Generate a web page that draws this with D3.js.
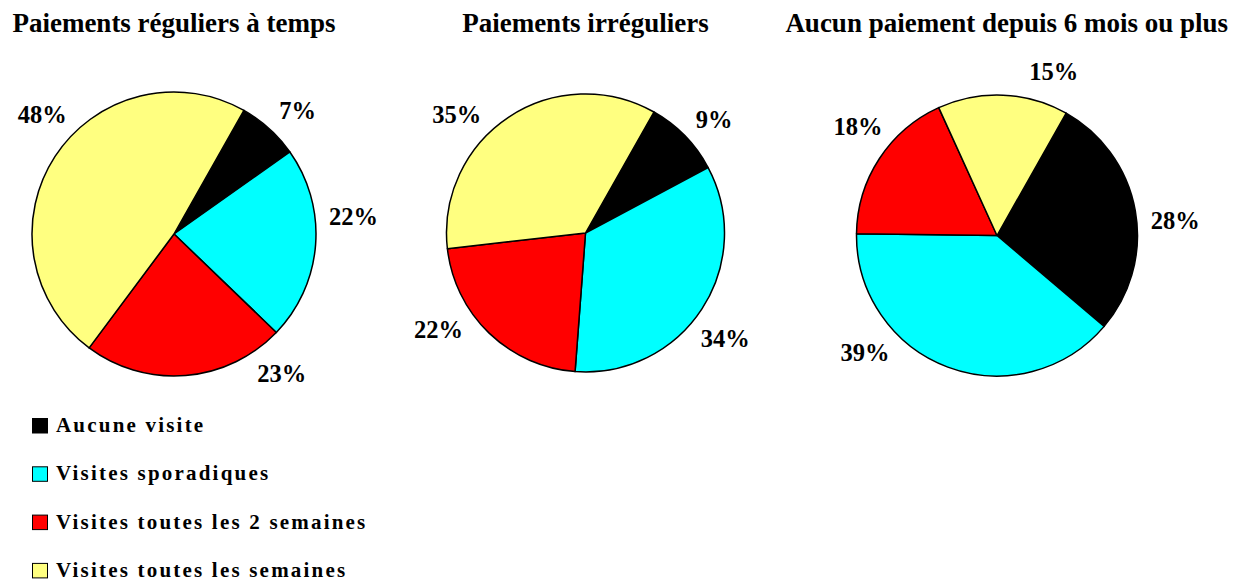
<!DOCTYPE html>
<html>
<head>
<meta charset="utf-8">
<script src="https://cdn.jsdelivr.net/npm/d3@7"></script>
<style>
  body { margin: 0; background: #fff; }
  svg { display: block; font-family: "Liberation Serif", "Times New Roman", serif; font-weight: bold; }
</style>
</head>
<body>
<div id="chart"></div>
<script>
// data
const categories = ['Aucune visite', 'Visites sporadiques', 'Visites toutes les 2 semaines', 'Visites toutes les semaines'];
const titles = ['Paiements réguliers à temps', 'Paiements irréguliers', 'Aucun paiement depuis 6 mois ou plus'];
const regulier = [7, 22, 23, 48];
const irregulier = [9, 34, 22, 35];
const aucunPaiement = [28, 39, 18, 15];
const series = [regulier, irregulier, aucunPaiement];
const colors = ['#000000', '#00ffff', '#ff0000', '#ffff80'];

// layout
const width = 1239, height = 585;
const startDeg = 29.5;
const radii = [142, 139, 140.5];
const centersY = [234, 233, 235.5];
// labels were dragged a bit off the slice middles in the original (degrees)
const labelTurn = [[3, -10, -32, 10], [3, 5, 12, -13], [5, 27, 6, 16]];

const svg = d3.select('#chart').append('svg')
  .attr('width', width)
  .attr('height', height);

const x = d3.scaleLinear().domain([0, 2]).range([174, 997]);

const pie = d3.pie()
  .sort(null)
  .value(d => d)
  .startAngle(startDeg * Math.PI / 180)
  .endAngle(startDeg * Math.PI / 180 + 2 * Math.PI);

series.forEach((values, i) => {
  const cx = x(i), cy = centersY[i], r = radii[i];
  const arc = d3.arc().innerRadius(0).outerRadius(r);

  const g = svg.append('g').attr('transform', `translate(${cx},${cy})`);
  const arcs = pie(values);

  g.selectAll('path')
    .data(arcs)
    .join('path')
    .attr('d', arc)
    .attr('fill', (d, j) => colors[j])
    .attr('stroke', '#000')
    .attr('stroke-width', 1.5)
    .attr('stroke-linejoin', 'round');

  // percent labels, outside the pie
  g.selectAll('text.pct')
    .data(arcs)
    .join('text')
    .attr('class', 'pct')
    .attr('text-anchor', 'middle')
    .style('font-size', '24.5px')
    .text(d => d.data + '%')
    .each(function (d, j) {
      const w = this.getComputedTextLength();
      const h = 17;
      const a = (d.startAngle + d.endAngle) / 2 + labelTurn[i][j] * Math.PI / 180;
      const s = Math.sin(a), c = -Math.cos(a);
      const lx = (r + 14) * s + s * w / 2;
      const ly = (r + 14) * c + c * (h / 2 + 10);
      d3.select(this).attr('x', lx).attr('y', ly + h / 2);
    });

  // title (the last one sits against the right margin)
  const t = svg.append('text')
    .attr('y', 32)
    .style('font-size', '27px')
    .text(titles[i]);
  if (i === series.length - 1) {
    t.attr('text-anchor', 'end').attr('x', width - 11);
  } else {
    t.attr('text-anchor', 'middle').attr('x', cx);
  }
});

// legend
const legend = svg.append('g').attr('transform', 'translate(32,418)');
const rows = legend.selectAll('g')
  .data(categories)
  .join('g')
  .attr('transform', (d, i) => `translate(0,${i * 48.3})`);

rows.append('rect')
  .attr('x', 0.5)
  .attr('y', 0.5)
  .attr('width', 15)
  .attr('height', 14.5)
  .attr('fill', (d, i) => colors[i])
  .attr('stroke', '#000')
  .attr('stroke-width', 1);

rows.append('text')
  .attr('x', 24)
  .attr('y', 14)
  .style('font-size', '21px')
  .style('letter-spacing', '2.2px')
  .text(d => d);
</script>
</body>
</html>
